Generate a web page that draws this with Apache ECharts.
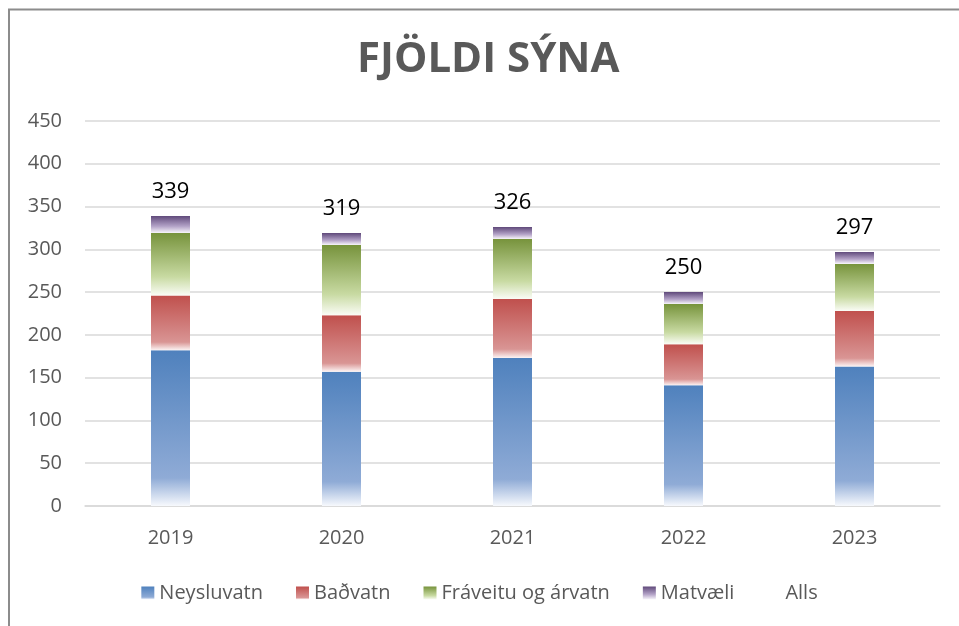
<!DOCTYPE html>
<html>
<head>
<meta charset="utf-8">
<script src="https://cdn.jsdelivr.net/npm/echarts@6/dist/echarts.min.js"></script>
<style>
  html, body { margin: 0; padding: 0; background: #fff; }
  #chart { width: 959px; height: 626px; }
</style>
</head>
<body>
<div id="chart"></div>
<script>
const years = ['2019', '2020', '2021', '2022', '2023']
const neysluvatn = [182, 157, 173, 141, 163]
const badvatn = [64, 66, 69, 48, 65]
const fraveitu = [73, 82, 70, 47, 55]
const matvaeli = [20, 14, 14, 14, 14]
const alls = [339, 319, 326, 250, 297]

const FONT = '"Open Sans", "Noto Sans", sans-serif'
const GRAY = '#595959'

// lóðréttur litastigi eins og í Excel: litur efst, hvítt neðst
function fade(top, mid, bottom, midAt) {
  return new echarts.graphic.LinearGradient(0, 0, 0, 1, [
    { offset: 0, color: top },
    { offset: midAt, color: mid },
    { offset: 1, color: bottom }
  ])
}

function stackBar(name, data, color) {
  return {
    name: name,
    type: 'bar',
    stack: 'syni',
    data: data,
    barWidth: 39,
    barGap: '-100%',
    itemStyle: { color: color },
    emphasis: { disabled: true }
  }
}

const chart = echarts.init(document.getElementById('chart'))
chart.setOption({
  animation: false,
  backgroundColor: '#ffffff',
  title: {
    text: 'FJÖLDI SÝNA',
    left: 352,
    top: 34,
    textStyle: { fontFamily: FONT, fontSize: 42, fontWeight: 'bold', color: GRAY }
  },
  legend: {
    top: 578,
    left: 'center',
    icon: 'rect',
    itemWidth: 13,
    itemHeight: 13,
    itemGap: 33,
    textStyle: { fontFamily: FONT, fontSize: 20, color: GRAY },
    data: ['Neysluvatn', 'Baðvatn', 'Fráveitu og árvatn', 'Matvæli', 'Alls']
  },
  grid: { left: 85, right: 19, top: 121, bottom: 120 },
  xAxis: {
    type: 'category',
    data: years,
    axisLine: { show: true, lineStyle: { color: '#D9D9D9', width: 1.5 } },
    axisTick: { show: false },
    axisLabel: { fontFamily: FONT, fontSize: 20, color: GRAY, margin: 22 }
  },
  yAxis: {
    type: 'value',
    min: 0,
    max: 450,
    interval: 50,
    axisLine: { show: false },
    axisTick: { show: false },
    axisLabel: { fontFamily: FONT, fontSize: 20, color: GRAY, margin: 23 },
    splitLine: { lineStyle: { color: '#D9D9D9', width: 1.5 } }
  },
  graphic: [{
    type: 'polyline',
    shape: { points: [[9, 626], [9, 9.5], [959, 9.5]] },
    style: { stroke: '#8C8C8C', lineWidth: 2, fill: null },
    silent: true
  }],
  series: [
    stackBar('Neysluvatn', neysluvatn, fade('#4F81BD', '#8FABD6', '#F7F9FD', 0.82)),
    stackBar('Baðvatn', badvatn, fade('#C0504D', '#D99594', '#FCF4F4', 0.85)),
    stackBar('Fráveitu og árvatn', fraveitu, fade('#77933C', '#C8DAA2', '#FAFCF6', 0.7)),
    stackBar('Matvæli', matvaeli, fade('#604A7B', '#B3A2C7', '#F8F6FB', 0.6)),
    {
      name: 'Alls',
      type: 'bar',
      data: alls,
      barWidth: 39,
      barGap: '-100%',
      z: 1,
      itemStyle: { color: 'rgba(0,0,0,0)' },
      emphasis: { disabled: true },
      label: {
        show: true,
        position: 'top',
        distance: 13,
        fontFamily: FONT,
        fontSize: 22,
        color: '#000000'
      }
    }
  ]
})
</script>
</body>
</html>
